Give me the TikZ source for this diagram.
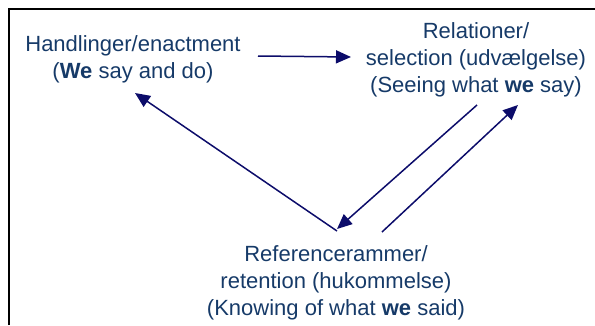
\documentclass[tikz,border=0pt]{standalone}
\usepackage{fontspec}
\setmainfont{Liberation Sans}
\usetikzlibrary{arrows.meta}
\definecolor{txtblue}{HTML}{163A68}
\definecolor{arrblue}{HTML}{0C0C6A}
\tikzset{
  lbl/.style={inner sep=0pt, align=center, text=txtblue, font=\fontsize{22}{27}\selectfont},
  arr/.style={draw=arrblue, line width=1.5pt, -{Triangle[length=15pt,width=13pt]}},
  frame/.style={draw=black, line width=2.3pt}
}
\begin{document}
\begin{tikzpicture}[x=1pt,y=-1pt]
\useasboundingbox (0,0) rectangle (595,325);
\draw[frame] (9,325) -- (9,9) -- (595,9);
\node[lbl] (enact) at (133,59.5) {Handlinger/enactment\\(\textbf{We} say and do)};
\node[lbl] (rel) at (476,59.5) {Relationer/\\selection (udvælgelse)\\(Seeing what \textbf{we} say)};
\node[lbl] (ref) at (336,282.5) {Referencerammer/\\retention (hukommelse)\\(Knowing of what \textbf{we} said)};
\coordinate (e1) at (258,56);
\coordinate (r1) at (351,57);
\coordinate (b1) at (337,231);
\coordinate (e2) at (135,93);
\coordinate (r2) at (477,105);
\coordinate (b2) at (337,229);
\coordinate (b3) at (382,232);
\coordinate (r3) at (518,105);
\draw[arr] (e1) -- (r1);
\draw[arr] (b1) -- (e2);
\draw[arr] (r2) -- (b2);
\draw[arr] (b3) -- (r3);
\end{tikzpicture}
\end{document}
